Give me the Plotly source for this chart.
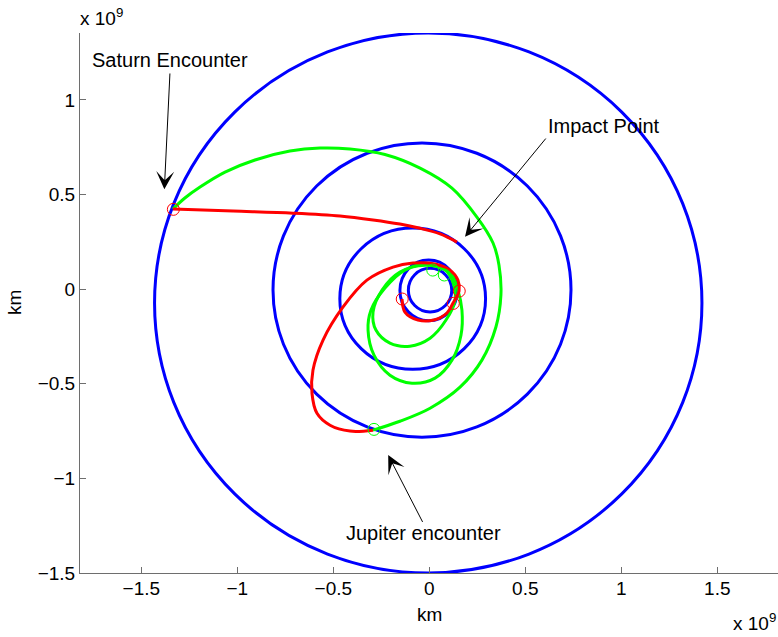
import plotly.graph_objects as go

# ---------------- data (units: 1e9 km) ----------------
# planetary orbits: bounding boxes of the drawn ellipses
orbit_names = ["Saturn", "Jupiter", "Belt", "Earth", "Venus"]
orbit_x0 = [-1.431, -0.814, -0.466, -0.153, -0.109]
orbit_x1 = [1.420, 0.738, 0.293, 0.146, 0.117]
orbit_y0 = [-1.500, -0.782, -0.423, -0.167, -0.120]
orbit_y1 = [1.354, 0.773, 0.323, 0.154, 0.110]

# green trajectory: Jupiter encounter -> Saturn encounter
green_arc_x = [-0.293, -0.153, 0.004, 0.160, 0.274, 0.347, 0.373, 0.363, 0.332, 0.248,
               0.118, -0.048, -0.231, -0.413, -0.569, -0.726, -0.908, -1.064, -1.194,
               -1.273, -1.335]
green_arc_y = [-0.745, -0.698, -0.629, -0.518, -0.375, -0.200, -0.031, 0.127, 0.244, 0.381,
               0.534, 0.640, 0.712, 0.741, 0.746, 0.730, 0.683, 0.619, 0.540, 0.482, 0.424]

# green inner loops
green_loopL_x = [0.108, 0.004, -0.127, -0.231, -0.304, -0.319, -0.288, -0.205, -0.090,
                 0.030, 0.118, 0.165, 0.170, 0.149, 0.108]
green_loopL_y = [0.090, 0.132, 0.101, 0.006, -0.111, -0.216, -0.349, -0.455, -0.497,
                 -0.470, -0.375, -0.243, -0.111, -0.005, 0.090]
green_loopS_x = [0.082, -0.022, -0.153, -0.246, -0.293, -0.278, -0.205, -0.101, 0.004,
                 0.087, 0.134, 0.123, 0.082]
green_loopS_y = [0.101, 0.127, 0.090, -0.005, -0.121, -0.216, -0.285, -0.301, -0.259,
                 -0.163, -0.058, 0.037, 0.101]

# red trajectory: Saturn encounter -> impact point
red_out_x = [-1.335, -1.022, -0.710, -0.465, -0.293, -0.153, -0.054, 0.056, 0.144]
red_out_y = [0.424, 0.413, 0.402, 0.387, 0.366, 0.344, 0.323, 0.292, 0.249]

# red trajectory: inner loops -> Jupiter encounter
red_in_x = [-0.142, -0.127, -0.059, 0.024, 0.092, 0.123, 0.155, 0.149, 0.108, 0.030,
            -0.085, -0.189, -0.325, -0.450, -0.554, -0.606, -0.611, -0.585, -0.517,
            -0.413, -0.293]
red_in_y = [-0.052, -0.121, -0.163, -0.163, -0.126, -0.074, -0.010, 0.048, 0.101, 0.133,
            0.138, 0.117, 0.048, -0.095, -0.270, -0.428, -0.550, -0.656, -0.719,
            -0.750, -0.745]

# encounter markers
red_mark_x = [-0.141, 0.156, 0.125, -1.333]
red_mark_y = [-0.052, -0.010, -0.075, 0.422]
green_mark_x = [0.018, 0.078, -0.288]
green_mark_y = [0.101, 0.075, -0.741]

# tick labels
x_ticks = [-1.5, -1, -0.5, 0, 0.5, 1, 1.5]
x_tick_text = ["\u22121.5", "\u22121", "\u22120.5", "0", "0.5", "1", "1.5"]
y_ticks = [-1.5, -1, -0.5, 0, 0.5, 1]
y_tick_text = ["\u22121.5", "\u22121", "\u22120.5", "0", "0.5", "1"]

# annotations: label, arrow tail (x, y), arrow tip (x, y)
arrow_labels = ["Saturn Encounter", "Impact Point", "Jupiter encounter"]
arrow_tail = [(-1.3505, 1.148), (0.613, 0.804), (-0.031, -1.238)]
arrow_tip = [(-1.380, 0.528), (0.186, 0.277), (-0.214, -0.877)]

# ---------------- figure ----------------
BLUE = "rgb(0,0,255)"
GREEN = "rgb(0,255,0)"
RED = "rgb(255,0,0)"
FONT = "Liberation Sans, Arial, Helvetica, sans-serif"
LW = 3

W, H = 778, 637
ML, MR, MT, MB = 80, 0, 33, 64
PW, PH = W - ML - MR, H - MT - MB


def px2paper(px, py):
    return (px - ML) / PW, (H - MB - py) / PH


fig = go.Figure()

shapes = []
for x0, x1, y0, y1 in zip(orbit_x0, orbit_x1, orbit_y0, orbit_y1):
    shapes.append(dict(type="circle", xref="x", yref="y", x0=x0, x1=x1, y0=y0, y1=y1,
                       line=dict(color=BLUE, width=LW), layer="below"))

for xs, ys, col in [(green_loopL_x, green_loopL_y, GREEN),
                    (green_loopS_x, green_loopS_y, GREEN),
                    (red_in_x, red_in_y, RED),
                    (green_arc_x, green_arc_y, GREEN),
                    (red_out_x, red_out_y, RED)]:
    fig.add_trace(go.Scatter(x=xs, y=ys, mode="lines",
                             line=dict(color=col, width=LW, shape="spline", smoothing=1.0),
                             showlegend=False, hoverinfo="skip"))

fig.add_trace(go.Scatter(x=red_mark_x, y=red_mark_y, mode="markers",
                         marker=dict(symbol="circle-open", size=12, color=RED,
                                     line=dict(width=1, color=RED)),
                         showlegend=False))
fig.add_trace(go.Scatter(x=green_mark_x, y=green_mark_y, mode="markers",
                         marker=dict(symbol="circle-open", size=12, color=GREEN,
                                     line=dict(width=1, color=GREEN)),
                         showlegend=False))

annotations = []
for (tx, ty), (hx, hy) in zip(arrow_tail, arrow_tip):
    annotations.append(dict(x=hx, y=hy, ax=tx, ay=ty, xref="x", yref="y", axref="x", ayref="y",
                            text="", showarrow=True, arrowhead=3, arrowsize=3.0,
                            arrowwidth=1, arrowcolor="black", standoff=0, startstandoff=0))

text_font = dict(family=FONT, size=20, color="black")
tick_font = dict(family=FONT, size=19, color="black")
# label positions in pixels
label_pos = [(170, 60, "center"), (546, 126, "left"), (423, 533, "center")]
for lab, (px, py, anc) in zip(arrow_labels, label_pos):
    xp, yp = px2paper(px, py)
    annotations.append(dict(x=xp, y=yp, xref="paper", yref="paper", text=lab, showarrow=False,
                            xanchor=anc, yanchor="middle", font=text_font))

# axis labels and multipliers
xp, yp = px2paper(429, 614)
annotations.append(dict(x=xp, y=yp, xref="paper", yref="paper", text="km", showarrow=False,
                        xanchor="center", yanchor="middle", font=tick_font))
xp, yp = px2paper(14, 303)
annotations.append(dict(x=xp, y=yp, xref="paper", yref="paper", text="km", showarrow=False,
                        xanchor="center", yanchor="middle", textangle=-90, font=tick_font))
xp, yp = px2paper(78, 17)
annotations.append(dict(x=xp, y=yp, xref="paper", yref="paper", text="x 10<sup>9</sup>",
                        showarrow=False, xanchor="left", yanchor="middle", font=tick_font))
xp, yp = px2paper(778, 622)
annotations.append(dict(x=xp, y=yp, xref="paper", yref="paper", text="x 10<sup>9</sup>",
                        showarrow=False, xanchor="right", yanchor="middle", font=tick_font))

axis_common = dict(showgrid=False, zeroline=False, showline=True, linecolor="#6e6e6e",
                   linewidth=1, ticks="inside", ticklen=6, tickcolor="#6e6e6e",
                   tickwidth=1, mirror=False, automargin=False,
                   tickfont=tick_font)

fig.update_layout(
    width=W, height=H,
    margin=dict(l=ML, r=MR, t=MT, b=MB, pad=0),
    paper_bgcolor="white", plot_bgcolor="white",
    shapes=shapes, annotations=annotations,
    xaxis=dict(range=[(ML - 429.3) / 192, (W - MR - 429.3) / 192],
               tickvals=x_ticks, ticktext=x_tick_text, ticklabelstandoff=-2, **axis_common),
    yaxis=dict(range=[-1.5, 1.354], tickvals=y_ticks, ticktext=y_tick_text,
               ticklabelstandoff=0, **axis_common),
    showlegend=False,
)

fig.write_html("out.html", config={"displayModeBar": False},
               post_script="document.body.style.margin='0';document.body.style.overflow='hidden';")
